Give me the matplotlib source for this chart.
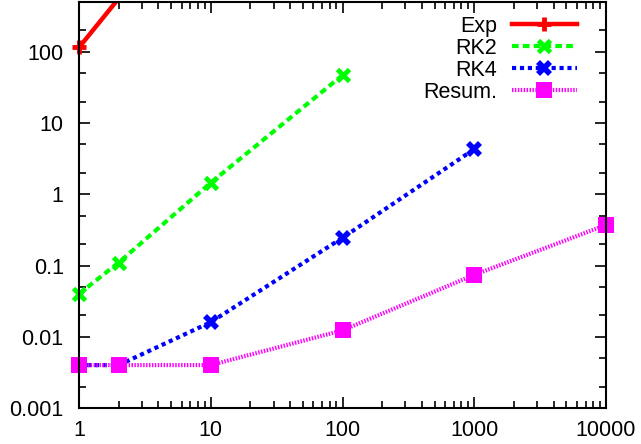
import numpy as np
import matplotlib
matplotlib.use("Agg")
import matplotlib.pyplot as plt
from matplotlib.lines import Line2D
from matplotlib.ticker import LogLocator, NullFormatter, FixedLocator, FixedFormatter

plt.rcParams['font.family'] = ['Liberation Sans', 'DejaVu Sans']

# data
exp_x = [1, 2]
exp_y = [115, 560]
rk2_x = [1, 2, 10, 100]
rk2_y = [0.04, 0.11, 1.45, 47]
rk4_x = [1, 2, 10, 100, 1000]
rk4_y = [0.004, 0.004, 0.016, 0.245, 4.3]
res_x = [1, 2, 10, 100, 1000, 10000]
res_y = [0.004, 0.004, 0.004, 0.0123, 0.074, 0.37]

labels = ['Exp', 'RK2', 'RK4', 'Resum.']
xticks = [1, 10, 100, 1000, 10000]
xlabels = ['1', '10', '100', '1000', '10000']
yticks = [0.001, 0.01, 0.1, 1, 10, 100]
ylabels = ['0.001', '0.01', '0.1', '1', '10', '100']

fig = plt.figure(figsize=(6.41, 4.44), dpi=100)
ax = fig.add_axes([79/641, 36/444, 527/641, 406/444])

styles = [
    dict(color='#ff0000', lw=3.2, ls='-', marker='+', ms=10, mew=3.5),
    dict(color='#00ff00', lw=3, ls=(0, (1.6, 1.0)), marker='x', ms=9, mew=3.5),
    dict(color='#0000ff', lw=3, ls=(0, (1.0, 0.9)), marker='X', ms=11, mew=0),
    dict(color='#ff00ff', lw=3, ls=(0, (0.35, 0.35)), marker='s', ms=11, mew=0),
]

# Exp: line clipped at the top, marker allowed to spill over the axis
ax.plot(exp_x, exp_y, color='#ff0000', lw=3.2)
ax.plot(exp_x[:1], exp_y[:1], ls='none', clip_on=False,
        **{k: v for k, v in styles[0].items() if k not in ('ls', 'lw')})
ax.plot(rk2_x, rk2_y, clip_on=False, **styles[1])
ax.plot(rk4_x, rk4_y, clip_on=False, **styles[2])
ax.plot(res_x, res_y, clip_on=False, **styles[3])

ax.set_xscale('log')
ax.set_yscale('log')
ax.set_xlim(1, 10000)
ax.set_ylim(0.001, 500)

ax.xaxis.set_major_locator(FixedLocator(xticks))
ax.xaxis.set_major_formatter(FixedFormatter(xlabels))
ax.xaxis.set_minor_locator(LogLocator(base=10, subs=np.arange(2, 10)))
ax.xaxis.set_minor_formatter(NullFormatter())
ax.yaxis.set_major_locator(FixedLocator(yticks))
ax.yaxis.set_major_formatter(FixedFormatter(ylabels))
ax.yaxis.set_minor_locator(LogLocator(base=10, subs=(2, 5)))
ax.yaxis.set_minor_formatter(NullFormatter())

ax.tick_params(which='both', direction='in', top=True, right=True,
               labelsize=15.5, width=1.2)
ax.tick_params(axis='y', pad=11)
ax.tick_params(axis='x', pad=8.5)
ax.tick_params(which='major', length=8)
ax.tick_params(which='minor', length=5)
for s in ax.spines.values():
    s.set_linewidth(1.5)

handles = [Line2D([], [], **st) for st in styles]
leg = ax.legend(handles, labels, loc='upper right',
                bbox_to_anchor=(504/527, 0.982), frameon=False,
                markerfirst=False, numpoints=1, fontsize=15.5, handlelength=3.0,
                labelspacing=0.05, handletextpad=0.7, borderaxespad=0.0,
                borderpad=0.3)
for t in leg.get_texts():
    t.set_ha('right')

fig.savefig('out.png', dpi=100)
